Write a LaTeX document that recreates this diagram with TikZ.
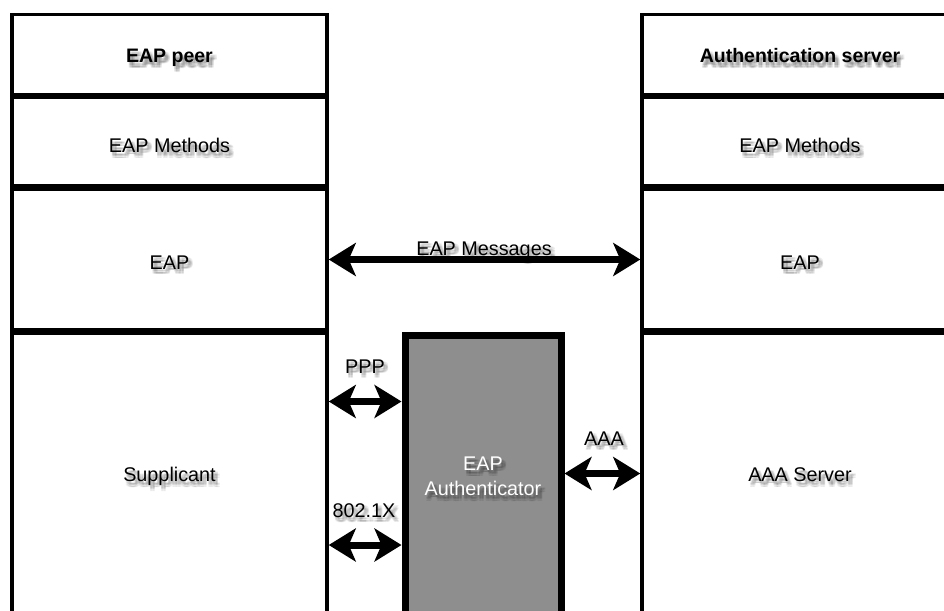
\documentclass[tikz,border=0pt]{standalone}
\usepackage{fontspec}
\setmainfont{Liberation Sans}
\usetikzlibrary{arrows.meta}
\definecolor{authgray}{RGB}{142,142,142}

\tikzset{
  layer/.style={draw=black, line width=3.5pt, fill=white, inner sep=0pt},
  leftlayer/.style={layer, minimum width=315pt},
  rightlayer/.style={layer, minimum width=316pt},
  authbox/.style={draw=black, line width=7pt, fill=authgray, inner sep=0pt,
    minimum width=156pt, minimum height=279.5pt},
  lbl/.style={font=\fontsize{19.8}{25}\selectfont, inner sep=0pt, align=center},
  boldlbl/.style={font=\fontsize{19.5}{25}\selectfont\bfseries, inner sep=0pt},
  twoway/.style={line width=7pt,
    {Stealth[length=27pt,width=33pt,inset=7pt]}-{Stealth[length=27pt,width=33pt,inset=7pt]}},
}

% a label with a soft drop shadow: #1 name, #2 options, #3 position, #4 text
\newcommand\shadowlabel[4]{%
  \foreach \sx/\sy in {1.5/2.5,3/2.5,4.5/2.5,1.5/4,3/4,4.5/4,1.5/5.5,3/5.5,4.5/5.5}
    {\node[#2,text=black,text opacity=0.065] at ([shift={(\sx,\sy)}]#3) {#4};}
  \node[#2] (#1) at (#3) {#4};
}

\begin{document}
\begin{tikzpicture}[x=1pt,y=-1pt]
  \useasboundingbox (0,0) rectangle (944,610);
  \clip (0,0) rectangle (944,610);
  \fill[white] (0,0) rectangle (944,610);

  % peer stack
  \node[leftlayer, minimum height=80pt]  (l1) at (169.5,54.5) {};
  \node[leftlayer, minimum height=88pt]  (l2) at (169.5,141.5) {};
  \node[leftlayer, minimum height=141pt] (l3) at (169.5,259.5) {};
  \node[leftlayer, minimum height=283pt] (l4) at (169.5,475) {};

  % server stack
  \node[rightlayer, minimum height=80pt]  (r1) at (800,54.5) {};
  \node[rightlayer, minimum height=88pt]  (r2) at (800,141.5) {};
  \node[rightlayer, minimum height=141pt] (r3) at (800,259.5) {};
  \node[rightlayer, minimum height=283pt] (r4) at (800,475) {};

  % authenticator
  \node[authbox] (auth) at (483,475.25) {};

  % layer names
  \shadowlabel{t-l1}{boldlbl,anchor=base}{169.5,63}{EAP peer}
  \shadowlabel{t-l2}{lbl,anchor=base}{169.5,152.5}{EAP Methods}
  \shadowlabel{t-l3}{lbl,anchor=base}{169.5,269}{EAP}
  \shadowlabel{t-l4}{lbl,anchor=base}{169.5,481.5}{Supplicant}
  \shadowlabel{t-r1}{boldlbl,anchor=base}{800,63}{Authentication server}
  \shadowlabel{t-r2}{lbl,anchor=base}{800,152.5}{EAP Methods}
  \shadowlabel{t-r3}{lbl,anchor=base}{800,269}{EAP}
  \shadowlabel{t-r4}{lbl,anchor=base}{800,481.5}{AAA Server}
  \shadowlabel{t-auth}{lbl,text=white}{483,476.7}{EAP\\Authenticator}

  % heights of the link arrows
  \coordinate (ppp-y) at (0,401.5);
  \coordinate (dot1x-y) at (0,545);
  \coordinate (aaa-y) at (0,473.5);

  % links
  \draw[twoway] (l3.east) -- (r3.west);
  \draw[twoway] (l4.east |- ppp-y) -- (auth.west |- ppp-y);
  \draw[twoway] (l4.east |- dot1x-y) -- (auth.west |- dot1x-y);
  \draw[twoway] (auth.east |- aaa-y) -- (r4.west |- aaa-y);

  % link names
  \shadowlabel{t-msg}{lbl,anchor=base}{484,255}{EAP Messages}
  \shadowlabel{t-ppp}{lbl,anchor=base}{365,373}{PPP}
  \shadowlabel{t-dot1x}{lbl,anchor=base}{364,517}{802.1X}
  \shadowlabel{t-aaa}{lbl,anchor=base}{604,445}{AAA}
\end{tikzpicture}
\end{document}
